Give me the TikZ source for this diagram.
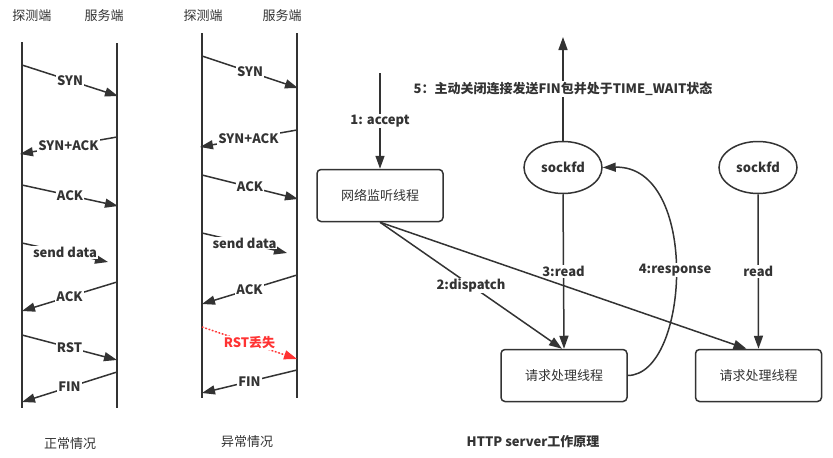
\documentclass[tikz,border=0pt]{standalone}
\usepackage{fontspec}
\setmainfont{Noto Sans CJK SC}
\usetikzlibrary{arrows.meta,shapes.geometric}
\definecolor{ink}{HTML}{333333}
\definecolor{lost}{HTML}{FF3333}
\tikzset{
  lifeline/.style={draw=ink, line width=2pt},
  msg/.style={draw=ink, line width=1.5pt, -{Triangle[length=13pt,width=9pt]}},
  lbl/.style={fill=white, inner sep=1pt, text=ink, font=\fontsize{13}{15}\selectfont\bfseries},
  hdr/.style={text=ink, font=\fontsize{13}{15}\selectfont},
  box/.style={draw=ink, line width=1.5pt, rounded corners=4pt, minimum width=126pt, minimum height=52pt, text=ink, font=\fontsize{13}{15}\selectfont},
  sock/.style={draw=ink, line width=1.5pt, ellipse, minimum width=78pt, minimum height=52pt, inner sep=0pt, text=ink, font=\fontsize{13}{15}\selectfont\bfseries},
}
\begin{document}
\begin{tikzpicture}[x=1pt, y=-1pt]
\useasboundingbox (0,0) rectangle (833,458);
% ---------- normal case ----------
\node[hdr] (h1) at (32,16) {探测端};
\node[hdr] (h2) at (104,16) {服务端};
\coordinate (a1t) at (22,42); \coordinate (a1b) at (22,408);
\coordinate (a2t) at (117,43); \coordinate (a2b) at (117,408);
\draw[lifeline] (a1t) -- (a1b);
\draw[lifeline] (a2t) -- (a2b);
\coordinate (n1s) at (22,65);  \coordinate (n1e) at (118,96);
\coordinate (n2s) at (117,137); \coordinate (n2e) at (20,154);
\coordinate (n3s) at (22,185); \coordinate (n3e) at (118,206);
\coordinate (n4s) at (22,243); \coordinate (n4e) at (108,262);
\coordinate (n5s) at (117,282); \coordinate (n5e) at (22,311);
\coordinate (n6s) at (22,335); \coordinate (n6e) at (117,360);
\coordinate (n7s) at (117,372); \coordinate (n7e) at (22,402);
\draw[msg] (n1s) -- node[lbl] {SYN} (n1e);
\draw[msg] (n2s) -- node[lbl] {SYN+ACK} (n2e);
\draw[msg] (n3s) -- node[lbl] {ACK} (n3e);
\draw[msg] (n4s) -- node[lbl] {send data} (n4e);
\draw[msg] (n5s) -- node[lbl] {ACK} (n5e);
\draw[msg] (n6s) -- node[lbl] {RST} (n6e);
\draw[msg] (n7s) -- node[lbl] {FIN} (n7e);
\node[hdr] (c1) at (70,444) {正常情况};
% ---------- abnormal case ----------
\node[hdr] (h3) at (203,16) {探测端};
\node[hdr] (h4) at (282,16) {服务端};
\coordinate (b1t) at (202,33); \coordinate (b1b) at (202,398);
\coordinate (b2t) at (297,33); \coordinate (b2b) at (297,398);
\draw[lifeline] (b1t) -- (b1b);
\draw[lifeline] (b2t) -- (b2b);
\coordinate (m1s) at (202,56);  \coordinate (m1e) at (298,88);
\coordinate (m2s) at (297,130); \coordinate (m2e) at (200,147);
\coordinate (m3s) at (202,175); \coordinate (m3e) at (298,199);
\coordinate (m4s) at (202,233); \coordinate (m4e) at (287,253);
\coordinate (m5s) at (297,275); \coordinate (m5e) at (202,304);
\coordinate (m6s) at (202,327); \coordinate (m6e) at (297,359);
\coordinate (m7s) at (297,370); \coordinate (m7e) at (202,393);
\draw[msg] (m1s) -- node[lbl] {SYN} (m1e);
\draw[msg] (m2s) -- node[lbl] {SYN+ACK} (m2e);
\draw[msg] (m3s) -- node[lbl] {ACK} (m3e);
\draw[msg] (m4s) -- node[lbl] {send data} (m4e);
\draw[msg] (m5s) -- node[lbl] {ACK} (m5e);
\draw[msg, draw=lost, dotted, fill=lost] (m6s) -- node[lbl, text=lost] {RST丢失} (m6e);
\draw[msg] (m7s) -- node[lbl] {FIN} (m7e);
\node[hdr] (c2) at (247,442) {异常情况};
% ---------- HTTP server ----------
\node[box] (listen) at (380,195.5) {网络监听线程};
\node[sock] (s1) at (563,167.5) {sockfd};
\node[sock] (s2) at (758,167.5) {sockfd};
\node[box] (w1) at (564,375.5) {请求处理线程};
\node[box] (w2) at (758.5,375.5) {请求处理线程};
\coordinate (acc) at (380,73);
\coordinate (up) at (563,37);
\draw[msg] (acc) -- node[lbl] {1: accept} (listen.north);
\draw[msg] (s1.north) -- node[lbl] {5：主动关闭连接发送FIN包并处于TIME\_WAIT状态} (up);
\draw[msg] (s1.south) -- node[lbl] {3:read} (w1.north);
\draw[msg] (s2.south) -- node[lbl] {read} (w2.north);
\draw[msg] (listen.south) -- node[lbl, pos=0.5] {2:dispatch} ([xshift=-2pt]w1.north);
\draw[msg] (listen.south) -- ([xshift=-12pt]w2.north);
\draw[msg] (w1.east) .. controls (690,375) and (700,165) .. node[lbl] {4:response} (s1.east);
\node[hdr, font=\fontsize{13}{15}\selectfont\bfseries] (c3) at (533,442) {HTTP server工作原理};
\end{tikzpicture}
\end{document}
